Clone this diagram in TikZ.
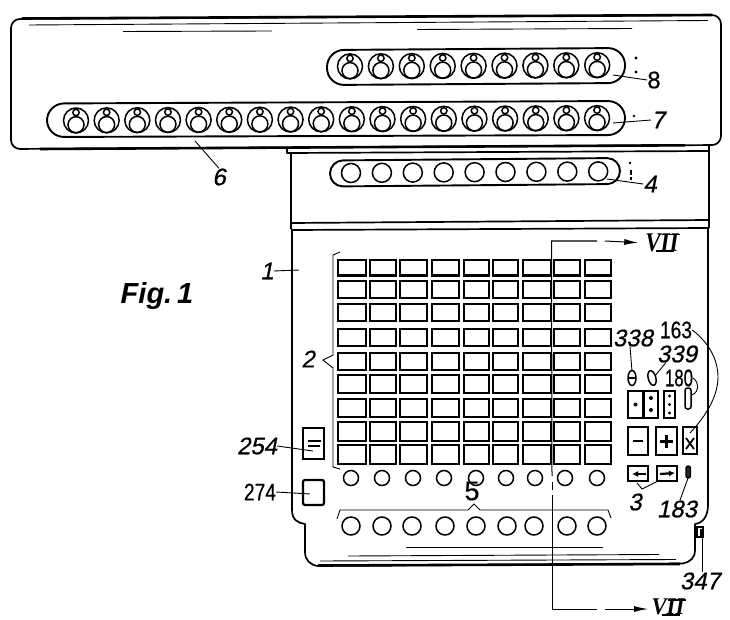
\documentclass[tikz,border=0pt]{standalone}
\usepackage{graphicx}
\usepackage{fontspec}
\setmainfont{Liberation Sans}
\newfontfamily\serifx{Liberation Serif}
\newfontfamily\labfont[FakeBold=0.6,FakeSlant=0.2]{Liberation Sans}
\newfontfamily\upfont[FakeBold=0.5]{Liberation Sans}
\newcommand{\narr}[1]{\scalebox{.8}[1]{#1}}
\usetikzlibrary{arrows.meta}
\tikzset{
  body/.style={line width=1.7pt,line join=round,black},
  thin edge/.style={line width=0.9pt,black},
  heavy/.style={line width=2.6pt,black},
  pill/.style={line width=1.9pt,black},
  key/.style={line width=2.2pt,black},
  ring/.style={line width=1.5pt,black},
  lead/.style={line width=0.9pt,black},
  lab/.style={inner sep=0pt,font=\labfont\fontsize{24}{24}\selectfont},
  labup/.style={inner sep=0pt,font=\upfont\fontsize{24}{24}\selectfont},
  romanlab/.style={inner sep=0pt,font=\serifx\bfseries\itshape\fontsize{27}{27}\selectfont},
  romanlow/.style={inner sep=0pt,font=\serifx\bfseries\itshape\fontsize{24}{24}\selectfont},
  figlab/.style={inner sep=0pt,font=\bfseries\itshape\fontsize{29}{29}\selectfont},
  cut/.style={line width=1pt,black},
  cuthead/.style={-{Latex[length=14pt,width=6pt]},line width=1pt,black},
}
\begin{document}
\begin{tikzpicture}[x=1pt,y=-1pt]
\useasboundingbox (0,0) rectangle (730,620);
% top housing
\draw[body,rounded corners=9] (11,19) -- (721,15) -- (721,145) -- (11,149) -- cycle;
\draw[heavy] (22,18.5) -- (712,15);
\draw[heavy] (40,149) -- (685,145.3);
\draw[thin edge] (29,25) -- (708,20.5);
\draw[thin edge] (123,31.5) -- (272,31);
\draw[thin edge] (417,29.5) -- (632,28.5);
% pill 8
\draw[pill,rounded corners=17] (327,50) -- (625,48) -- (625,83) -- (327,85) -- cycle;
\foreach \i in {0,...,8}{
  \pgfmathsetmacro{\cx}{350+\i*30.9}
  \pgfmathsetmacro{\cy}{66.4-\i*0.15}
  \draw[ring] (\cx,\cy) circle (12.5pt);
  \draw[ring] (\cx,\cy+4.2) circle (8pt);
  \draw[ring] (\cx,\cy-8) circle (3.2pt);
}
% pill 7
\draw[pill,rounded corners=17] (47,103.5) -- (625,101) -- (625,135) -- (47,137) -- cycle;
\foreach \i in {0,...,17}{
  \pgfmathsetmacro{\cx}{76+\i*30.65}
  \pgfmathsetmacro{\cy}{120.5-\i*0.14}
  \draw[ring] (\cx,\cy) circle (12.5pt);
  \draw[ring] (\cx,\cy+4.2) circle (8pt);
  \draw[ring] (\cx,\cy-8) circle (3.2pt);
}
% middle housing
\draw[body] (287,148.5) -- (287,153) -- (709,151);
\draw[body] (291,153) -- (291,229);
\draw[body] (709,146) -- (709,228);
\draw[pill,rounded corners=13] (330,160.5) -- (620,158) -- (620,184) -- (330,186.5) -- cycle;
\foreach \i in {0,...,8}{
  \pgfmathsetmacro{\cx}{351+\i*30.9}
  \pgfmathsetmacro{\cy}{173-\i*0.2}
  \draw[ring] (\cx,\cy) circle (9.5pt);
}
\draw[body] (291,223) -- (709,220);
\draw[body] (292,230) -- (709,228);
% lower housing
\draw[body] (292,229) -- (292,510) .. controls (292,520) and (298,523) .. (305,524)
  -- (305,552) .. controls (305,560) and (310,565) .. (318,566) -- (683,563.5)
  .. controls (690,562) and (695,558) .. (695,550) -- (695,524)
  .. controls (703,523) and (708,516) .. (708,505) -- (708,228);
\draw[heavy] (318,565.5) -- (680,564);
\draw[thin edge] (406,547) -- (603,547);
\draw[thin edge] (348,556) -- (659,554.5);
\draw[thin edge] (320,561) -- (676,559.5);
% key grid
\foreach \xa/\xb in {338/366,370/396,400/427,432/459,464/489,493/518,523/551,554/580,585/611}{
  \foreach \ya/\yb in {260/275.5,281/298,304/321,329/346,353/370,375/393,399/417,422/441,445/464}{
    \draw[key] (\xa,\ya) rectangle (\xb,\yb);
  }
}
% circles under the grid
\foreach \cx in {351,382,413,444,476,506,535,565,597}{
  \draw[ring] (\cx,478) circle (7.5pt);
}
\foreach \cx in {351,382,412,445,476,507,534,567,597}{
  \draw[ring] (\cx,526) circle (9pt);
}
% bracket of 2
\draw[lead] (340,252) -- (333,255) -- (333,355) -- (323,360) -- (333,368) -- (333,467) -- (340,469);
% bracket of 5
\draw[lead] (337,519) -- (340,510) -- (468,510) -- (474,504) -- (480,510) -- (608,510) -- (611,518);
% buttons at the left
\draw[key] (303,428) rectangle (324,459);
\draw[line width=1.8pt] (308,441) -- (321,441);
\draw[line width=1.8pt] (308,446) -- (320,446);
\coordinate (k254) at (313,451);
\draw[key,rounded corners=2] (303,480) rectangle (324,505);
\coordinate (k274) at (310,494);
% right-hand keys
\draw[ring] (632,378) ellipse (4pt and 7.5pt);
\draw[ring] (628,378) -- (636,378);
\draw[ring,rotate around={15:(652,378)}] (652,378) ellipse (3.8pt and 7.5pt);
\coordinate (e338) at (632,371);
\coordinate (e339) at (655,376);
\draw[ring,rounded corners=2.5] (685,388) rectangle (691,409);
\draw[key] (628,391) rectangle (643,418);
\draw[key] (644,391) rectangle (658,418);
\draw[key] (664,391) rectangle (675,418);
\fill (635.5,404.5) circle (2pt);
\fill (651,398) circle (2pt);
\fill (651,410) circle (2pt);
\fill (669.5,396) circle (1.6pt);
\fill (669.5,404.5) circle (1.6pt);
\fill (669.5,413) circle (1.6pt);
\draw[key] (628,427) rectangle (648,455);
\draw[line width=2.2pt] (633,441) -- (643,441);
\draw[key] (656,427) rectangle (677,455);
\draw[line width=2.2pt] (660,441.5) -- (673,441.5);
\draw[line width=2.2pt] (666.5,435) -- (666.5,448);
\draw[key] (683,427) rectangle (697,454);
\draw[line width=1.8pt] (686,438) -- (694,449);
\draw[line width=1.8pt] (694,438) -- (686,449);
\coordinate (k163) at (690,433);
\draw[key] (628,466) rectangle (648,481);
\draw[key] (657,466) rectangle (677,481);
\draw[-{Latex[length=6pt,width=6pt]},line width=2.2pt] (646,474) -- (632,474);
\draw[-{Latex[length=6pt,width=6pt]},line width=2.2pt] (660,474) -- (675,473);
\coordinate (a3) at (637,483);
\coordinate (b3) at (660,480);
\coordinate (m3) at (642,489);
\draw[line width=1.3pt,fill=black!85,rounded corners=2] (686,466) rectangle (690.5,478);
\coordinate (e183) at (688,478);
% block 347
\draw[line width=1.4pt] (697,527) rectangle (703,537);
\fill (700,529) rectangle (703,537);
\coordinate (e347) at (702,537);
% small marks
\fill (636,58) circle (1.6pt);
\fill (636,72) circle (1.6pt);
\fill (634,116) circle (1.3pt);
\fill (630,163) circle (1.3pt);
\fill (629.5,170) rectangle (631.5,175);
\fill (629.5,177) rectangle (631.5,180);
% labels
\node[labup] (l8) at (654,80) {8};
\node[lab] (l7) at (658,120) {7};
\node[lab] (l4) at (650,184) {4};
\node[lab] (l6) at (219,177) {6};
\node[lab] (l1) at (267,271) {1};
\node[lab] (l2) at (308,359) {2};
\node[lab] (l254) at (257,446) {254};
\node[labup] (l274) at (260,492) {\narr{274}};
\node[labup,font=\upfont\fontsize{27}{27}\selectfont] (l5) at (472,491) {5};
\node[lab] (l3) at (635,502) {3};
\node[lab] (l183) at (677,509) {183};
\node[lab] (l338) at (633,338) {338};
\node[labup] (l163) at (676,330) {\narr{163}};
\node[lab] (l339) at (677,354) {339};
\node[labup] (l180) at (679,378) {\scalebox{.7}[1]{180}};
\node[lab] (l347) at (700,581) {347};
\node[figlab] (lfig) at (157,296) {Fig.\,1};
\node[romanlab] (lvii) at (662,243) {\scalebox{.85}[1]{VII}};
\node[romanlow] (lviib) at (668,607) {\scalebox{.95}[1]{VII}};
% bars of the numerals
\draw[line width=1.6pt] (662,234.5) -- (680,234.5);
\draw[line width=1.6pt] (656,251) -- (674,251);
\draw[line width=1.6pt] (668,600) -- (686,600);
\draw[line width=1.6pt] (662,615) -- (680,615);
% leaders
\coordinate (t8) at (613,75);
\coordinate (t7) at (613,123);
\coordinate (t4) at (607,179);
\coordinate (t6) at (195,141);
\coordinate (t1) at (299,270);
\coordinate (e180) at (692,395);
\draw[lead] (l8.west) -- (t8);
\draw[lead] (l7.west) -- (t7);
\draw[lead] (l4.west) -- (t4);
\draw[lead] (l6.north) -- (t6);
\draw[lead] (l1.east) -- (t1);
\draw[lead] (l254.east) -- (k254);
\draw[lead] (l274.east) -- (k274);
\draw[lead] (l338.south) ++(-3,0) -- (e338);
\draw[lead] (l339.south west) ++(9,0) -- (e339);
\draw[lead] (l163.east) .. controls (707,341) and (718,358) .. (718,377) .. controls (718,396) and (706,416) .. (k163);
\draw[lead] (l180.east) .. controls (699,383) and (700,391) .. (e180);
\draw[lead] (a3) -- (m3) -- (b3);
\draw[lead] (l183.north) ++(3,0) -- (e183);
\draw[lead] (l347.north) ++(2,0) -- (e347);
% section line
\coordinate (c1) at (551.5,241);
\coordinate (c2) at (552,609);
\coordinate (h2) at (648,609);
\draw[cut] (597,241) -- (c1) -- (552,476);
\draw[cut] (552,482) -- (552,490);
\draw[cut] (552,495) -- (c2) -- (597,609);
\draw[cuthead,shorten >=7pt] (605,241) -- (lvii.west);
\draw[cuthead] (605,609) -- (h2);
\end{tikzpicture}
\end{document}
